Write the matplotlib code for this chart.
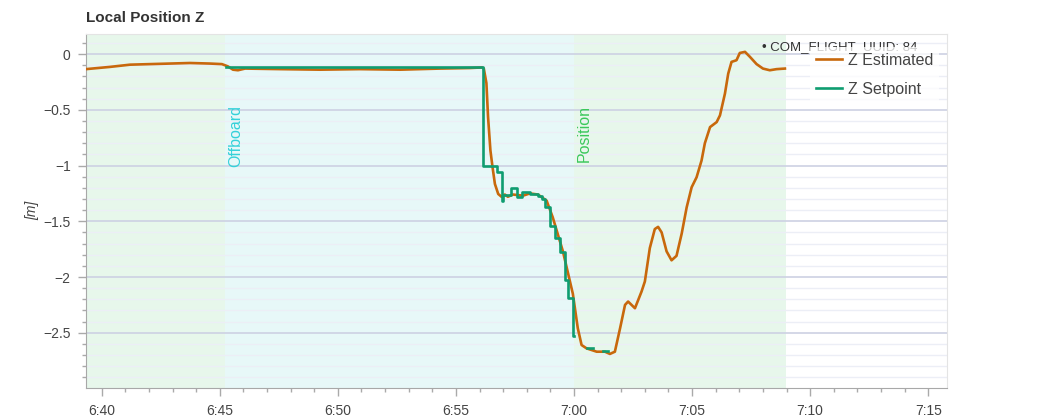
import matplotlib
matplotlib.use('Agg')
import matplotlib.pyplot as plt
from matplotlib.ticker import MultipleLocator, FuncFormatter
import numpy as np

plt.rcParams['font.family'] = ['Liberation Sans', 'DejaVu Sans']

# time in minutes after 6:00
est_t = [39.335, 40.35, 41.20, 42.04, 42.89, 43.74, 44.58, 45.09, 45.34, 45.56,
         45.77, 46.07, 47.55, 49.24, 50.93, 52.63, 54.32, 55.59, 56.10, 56.18,
         56.29, 56.36, 56.46, 56.55, 56.65, 56.79, 56.93, 57.07, 57.20, 57.41,
         57.84, 58.13, 58.47, 58.84, 59.10, 59.53, 59.95, 60.16, 60.32, 60.53,
         60.96, 61.31, 61.52, 61.73, 61.95, 62.16, 62.29, 62.58, 62.86, 63.00,
         63.21, 63.42, 63.56, 63.71, 63.92, 64.13, 64.34, 64.56, 64.77, 64.98,
         65.19, 65.40, 65.54, 65.76, 66.04, 66.18, 66.39, 66.53, 66.67, 66.88,
         67.02, 67.24, 67.45, 67.73, 68.00, 68.29, 68.58, 68.93]
est_z = [-0.135, -0.115, -0.095, -0.09, -0.085, -0.08, -0.085, -0.09, -0.11, -0.14,
         -0.145, -0.13, -0.135, -0.14, -0.135, -0.14, -0.13, -0.125, -0.12, -0.13,
         -0.26, -0.565, -0.865, -1.015, -1.165, -1.255, -1.28, -1.26, -1.28, -1.26,
         -1.27, -1.25, -1.26, -1.315, -1.465, -1.77, -2.15, -2.46, -2.61, -2.64,
         -2.67, -2.67, -2.69, -2.67, -2.46, -2.25, -2.22, -2.28, -2.13, -2.04,
         -1.74, -1.57, -1.55, -1.60, -1.77, -1.85, -1.81, -1.61, -1.375, -1.195,
         -1.105, -0.955, -0.80, -0.655, -0.61, -0.55, -0.355, -0.175, -0.07, -0.055,
         0.01, 0.02, -0.025, -0.09, -0.13, -0.145, -0.135, -0.13]

sp_t = [45.26, 56.16, 56.72, 56.93, 57.00, 57.33, 57.57, 57.78, 58.13, 58.47,
        58.63, 58.77, 58.98, 59.19, 59.40, 59.61, 59.75, 59.97, 60.00,
        60.53, 60.81, 61.23, 61.44]
sp_z = [-0.12, -1.005, -1.055, -1.315, -1.26, -1.2, -1.28, -1.24, -1.255, -1.27,
        -1.30, -1.375, -1.54, -1.65, -1.78, -2.03, -2.19, -2.53, np.nan,
        -2.635, np.nan, -2.66, np.nan]

# flight modes: (start, end, label, fill, text colour)
modes = [(39.0, 45.22, None, '#e7f7eb', None),
         (45.22, 60.0, 'Offboard', '#e7f8f8', '#33d1d9'),
         (60.0, 68.96, 'Position', '#e7f7eb', '#3ac85a')]

fig = plt.figure(figsize=(10.5, 4.2), dpi=100)
ax = fig.add_axes([0.0819, 0.0769, 0.8197, 0.8421])

for start, end, label, fill, tcol in modes:
    ax.axvspan(start, end, color=fill, lw=0, zorder=0)
    if label:
        ax.text(start + 0.13, -0.457, label, rotation=90, ha='left', va='top',
                color=tcol, fontsize=11.5, zorder=2)

ax.plot(est_t, est_z, color='#c8680c', lw=1.9, label='Z Estimated', zorder=3,
        solid_joinstyle='round')
ax.plot(sp_t, sp_z, color='#0f9d70', lw=1.9, label='Z Setpoint', zorder=4,
        drawstyle='steps-post')

ax.set_xlim(39.335, 75.78)
ax.set_ylim(-2.993, 0.18)

ax.xaxis.set_major_locator(MultipleLocator(5))
ax.xaxis.set_minor_locator(MultipleLocator(1))
ax.xaxis.set_major_formatter(FuncFormatter(lambda m, p: f"{6 + int(m) // 60}:{int(m) % 60:02d}"))
ax.yaxis.set_major_locator(MultipleLocator(0.5))
ax.yaxis.set_minor_locator(MultipleLocator(0.1))
ax.yaxis.set_major_formatter(FuncFormatter(lambda v, p: f"{v:g}".replace('-', '\u2212')))

ax.grid(axis='y', which='major', color='#cdd1e3', lw=1.2, zorder=1)
ax.grid(axis='y', which='minor', color='#eceef6', lw=1.0, zorder=1)
ax.set_axisbelow(True)

ax.tick_params(which='both', colors='#aaaaaa', labelcolor='#444444', labelsize=10)
ax.tick_params(which='major', length=6, width=1)
ax.tick_params(which='minor', length=3, width=1)
ax.tick_params(axis='x', pad=6)
ax.tick_params(axis='y', pad=5)

for s in ['left', 'bottom']:
    ax.spines[s].set_color('#a8a8a8')
for s in ['top', 'right']:
    ax.spines[s].set_color('#e4e4e4')

ax.set_ylabel('[m]', fontsize=10, style='italic', color='#444444', labelpad=3)
ax.set_title('Local Position Z', loc='left', fontsize=11, fontweight='bold',
             color='#333333', pad=9)

ax.text(0.786, 0.963, '\u2022 COM_FLIGHT_UUID: 84', transform=ax.transAxes,
        fontsize=9.5, color='#333333', va='center', ha='left', zorder=5)

leg = ax.legend(loc='upper right', bbox_to_anchor=(0.991, 0.962), borderaxespad=0,
                fontsize=11.5, frameon=True, framealpha=0.75, edgecolor='none',
                fancybox=False, handlelength=1.6, handletextpad=0.4,
                labelspacing=0.85, borderpad=0.35)
leg.set_zorder(6)
for t in leg.get_texts():
    t.set_color('#444444')

fig.savefig('out.png', dpi=100)
